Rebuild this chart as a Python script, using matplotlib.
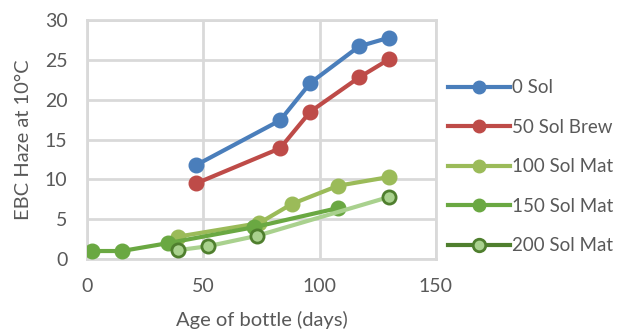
import matplotlib
matplotlib.use("Agg")
import matplotlib.pyplot as plt
from matplotlib.lines import Line2D

# Haze measurements (EBC at 10 °C) against bottle age in days
sol0_days = [47, 83, 96, 117, 130]
sol0_haze = [11.8, 17.4, 22.1, 26.7, 27.8]

sol50_days = [47, 83, 96, 117, 130]
sol50_haze = [9.5, 13.9, 18.5, 22.8, 25.1]

sol100_days = [39, 74, 88, 108, 130]
sol100_haze = [2.8, 4.5, 6.9, 9.2, 10.3]

sol150_days = [2, 15, 35, 72, 108]
sol150_haze = [1.0, 1.0, 2.0, 4.0, 6.4]

sol200_days = [39, 52, 73, 130]
sol200_haze = [1.1, 1.6, 2.9, 7.8]

series_names = ["0 Sol", "50 Sol Brew", "100 Sol Mat", "150 Sol Mat", "200 Sol Mat"]
x_ticks = [0, 50, 100, 150]
y_ticks = [0, 5, 10, 15, 20, 25, 30]

plt.rcParams["font.family"] = ["Lato", "DejaVu Sans"]
text_grey = "#595959"
grid_grey = "#D9D9D9"

fig = plt.figure(figsize=(6.19, 3.34), dpi=100)
ax = fig.add_axes([0.1405, 0.2246, 0.5638, 0.7154])

lw = 3.0
ms = 10.5

ax.plot(sol0_days, sol0_haze, color="#4A7EBB", lw=lw, marker="o", ms=ms,
        solid_capstyle="round", zorder=3)
ax.plot(sol50_days, sol50_haze, color="#BE4B48", lw=lw, marker="o", ms=ms,
        solid_capstyle="round", zorder=3)
ax.plot(sol100_days, sol100_haze, color="#9BBB59", lw=lw, marker="o", ms=ms,
        solid_capstyle="round", zorder=3)
ax.plot(sol150_days, sol150_haze, color="#6AA842", lw=lw, marker="o", ms=ms,
        solid_capstyle="round", zorder=3)
ax.plot(sol200_days, sol200_haze, color="#A9D18E", lw=lw, marker="o", ms=ms - 1,
        markerfacecolor="#A9D18E", markeredgecolor="#4F7F2E", markeredgewidth=2,
        solid_capstyle="round", zorder=4)

ax.set_xlim(0, 150)
ax.set_ylim(0, 30)
ax.set_xticks(x_ticks)
ax.set_yticks(y_ticks)
ax.grid(True, color=grid_grey, lw=2)
ax.set_axisbelow(True)
for s in ax.spines.values():
    s.set_color(grid_grey)
    s.set_linewidth(2)
ax.tick_params(length=0, labelsize=14, colors=text_grey)
ax.tick_params(axis="y", pad=14)
ax.tick_params(axis="x", pad=14)

ax.set_xlabel("Age of bottle (days)", fontsize=14.5, color=text_grey, labelpad=11)
ax.set_ylabel("EBC Haze at 10°C", fontsize=14.5, color=text_grey, labelpad=9)

handle_styles = [
    dict(color="#4A7EBB", markerfacecolor="#4A7EBB", markeredgecolor="#4A7EBB"),
    dict(color="#BE4B48", markerfacecolor="#BE4B48", markeredgecolor="#BE4B48"),
    dict(color="#9BBB59", markerfacecolor="#9BBB59", markeredgecolor="#9BBB59"),
    dict(color="#6AA842", markerfacecolor="#6AA842", markeredgecolor="#6AA842"),
    dict(color="#4F7F2E", markerfacecolor="#A9D18E", markeredgecolor="#4F7F2E",
         markeredgewidth=2),
]
handles = [Line2D([], [], lw=lw, marker="o", ms=9, **st) for st in handle_styles]
leg = fig.legend(handles, series_names, loc="upper left",
                 bbox_to_anchor=(0.712, 0.785), frameon=False, fontsize=13.5,
                 handlelength=3.3, handletextpad=0.1, labelspacing=1.2,
                 borderaxespad=0)
for t in leg.get_texts():
    t.set_color(text_grey)

fig.savefig("out.png", dpi=100)
